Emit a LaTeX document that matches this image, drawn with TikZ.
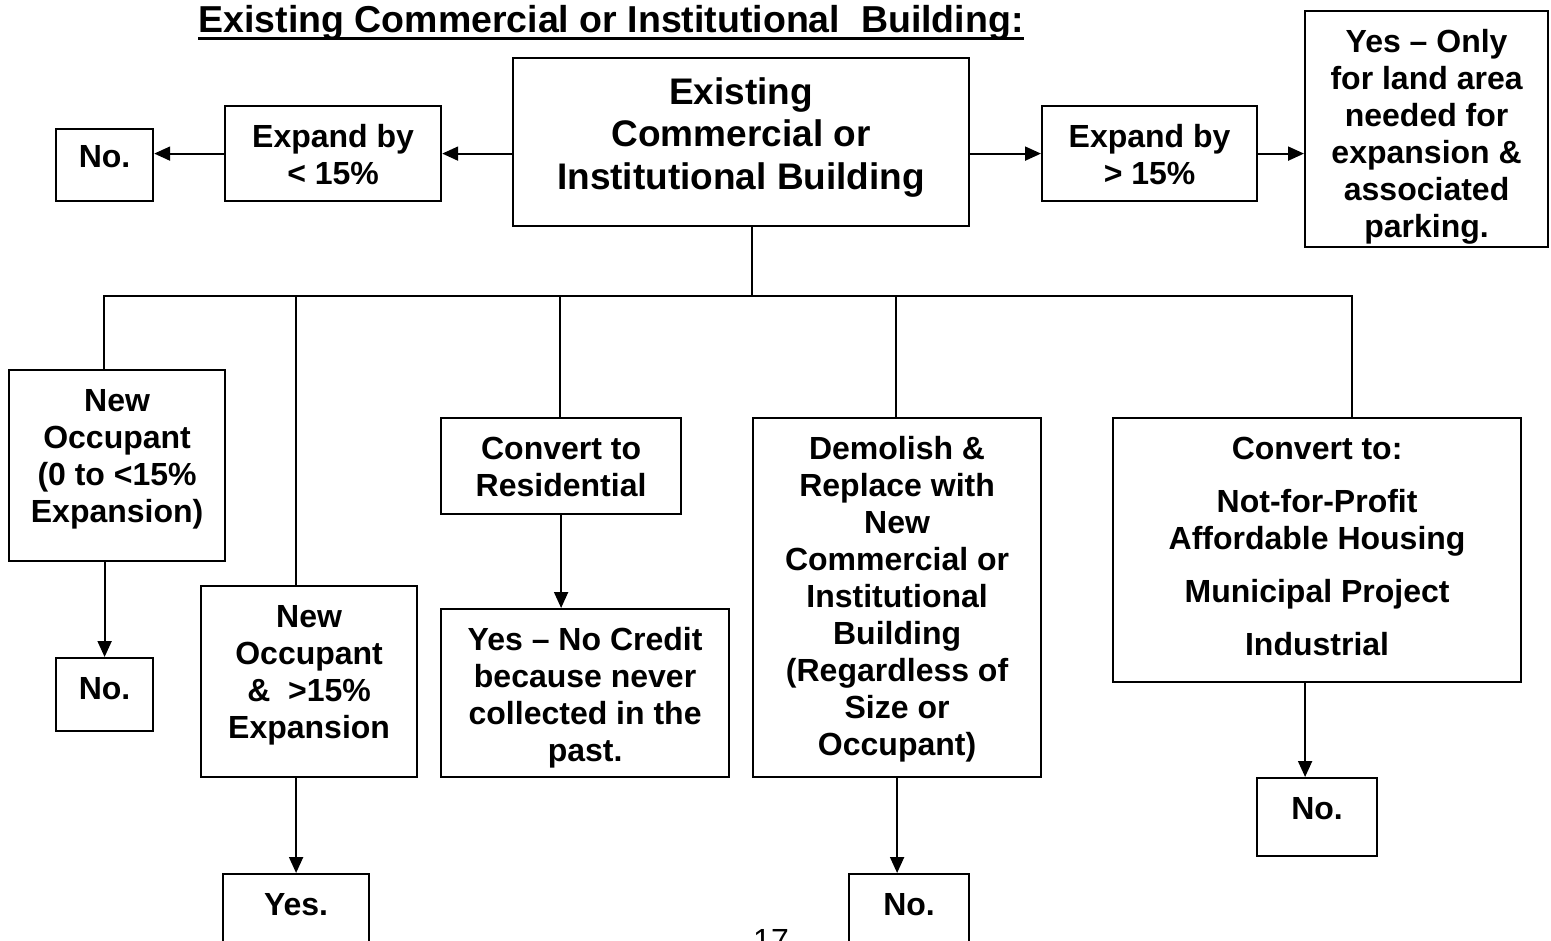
\documentclass[tikz,border=0pt]{standalone}
\usepackage{fontspec}
\setmainfont{Liberation Sans}
\usetikzlibrary{arrows.meta}
% box body: width, height, first-baseline distance, lines (top aligned)
\newcommand\boxbody[4]{\parbox[c][#2pt][t]{#1pt}{\centering\rule{0pt}{#3pt}#4\par}}
\begin{document}
\begin{tikzpicture}[x=1pt,y=-1pt,
  box/.style={draw, line width=2.2pt, inner sep=0pt, anchor=north west,
    font=\fontsize{32}{37}\selectfont\bfseries},
  bigbox/.style={box, font=\fontsize{37}{42.5}\selectfont\bfseries},
  link/.style={line width=2pt},
  arr/.style={link, -{Triangle[length=16pt,width=14pt]}}]
\useasboundingbox (0,0) rectangle (1551,941);
\clip (0,0) rectangle (1551,941);

% heading
\node[anchor=base, inner sep=0pt, font=\fontsize{37.5}{42}\selectfont\bfseries]
  (title) at (611,33) {Existing Commercial or Institutional\ \ Building:};
\draw[line width=3pt] ([yshift=-6pt]title.base west) -- ([yshift=-6pt]title.base east);

% top row
\node[bigbox] (main) at (512,57) {\boxbody{456}{168}{46}{Existing\\Commercial or\\Institutional Building}};
\node[box] (expL) at (224,105) {\boxbody{216}{95}{41}{Expand by\\< 15\%}};
\node[box] (noL) at (55,128) {\boxbody{97}{72}{38}{No.}};
\node[box] (expR) at (1041,105) {\boxbody{215}{95}{41}{Expand by\\> 15\%}};
\node[box] (yesOnly) at (1304,10) {\boxbody{243}{236}{41}{Yes – Only\\for land area\\needed for\\expansion \&\\associated\\parking.}};

\draw[arr] (main.west |- expL.east) -- (expL.east);
\draw[arr] (expL.west) -- (expL.west -| noL.east);
\draw[arr] (main.east |- expR.west) -- (expR.west);
\draw[arr] (expR.east) -- (expR.east -| yesOnly.west);

% branches
\node[box] (occ1) at (8,369) {\boxbody{216}{191}{41}{New\\Occupant\\(0 to <15\%\\Expansion)}};
\node[box] (noA) at (55,657) {\boxbody{97}{73}{41}{No.}};
\node[box] (occ2) at (200,585) {\boxbody{216}{191}{41}{New\\Occupant\\\&\ \ >15\%\\Expansion}};
\node[box] (yesB) at (222,873) {\boxbody{146}{120}{41}{Yes.}};
\node[box] (convRes) at (440,417) {\boxbody{240}{96}{41}{Convert to\\Residential}};
\node[box] (yesNC) at (440,608) {\boxbody{288}{168}{41}{Yes – No Credit\\because never\\collected in the\\past.}};
\node[box] (demol) at (752,417) {\boxbody{288}{359}{41}{Demolish \&\\Replace with\\New\\Commercial or\\Institutional\\Building\\(Regardless of\\Size or\\Occupant)}};
\node[box] (noC) at (848,873) {\boxbody{120}{120}{41}{No.}};
\node[box] (convTo) at (1112,417) {\boxbody{408}{264}{41}{Convert to:\\[16pt]Not-for-Profit\\Affordable Housing\\[16pt]Municipal Project\\[16pt]Industrial}};
\node[box] (noD) at (1256,777) {\boxbody{120}{78}{41}{No.}};

% page number
\node[anchor=base, inner sep=0pt, font=\fontsize{32}{36}\selectfont] (pnum) at (771,951) {17};

% distribution bus
\coordinate (hub) at (752,296);
\coordinate (d1) at (104,296);
\coordinate (d2) at (296,296);
\coordinate (d3) at (560,296);
\coordinate (d4) at (896,296);
\coordinate (d5) at (1352,296);
\draw[link] (hub |- main.south) -- (hub);
\draw[link, line cap=rect] (d1) -- (d5);
\draw[link] (d1) -- (d1 |- occ1.north);
\draw[link] (d2) -- (d2 |- occ2.north);
\draw[link] (d3) -- (d3 |- convRes.north);
\draw[link] (d4) -- (d4 |- demol.north);
\draw[link] (d5) -- (d5 |- convTo.north);

% outcomes
\draw[arr] (noA.north |- occ1.south) -- (noA.north);
\draw[arr] (yesB.north |- occ2.south) -- (yesB.north);
\draw[arr] (convRes.south) -- (convRes.south |- yesNC.north);
\draw[arr] (demol.south) -- (demol.south |- noC.north);
\draw[arr] ([xshift=-12pt]convTo.south) -- ([xshift=-12pt]noD.north);
\end{tikzpicture}
\end{document}
